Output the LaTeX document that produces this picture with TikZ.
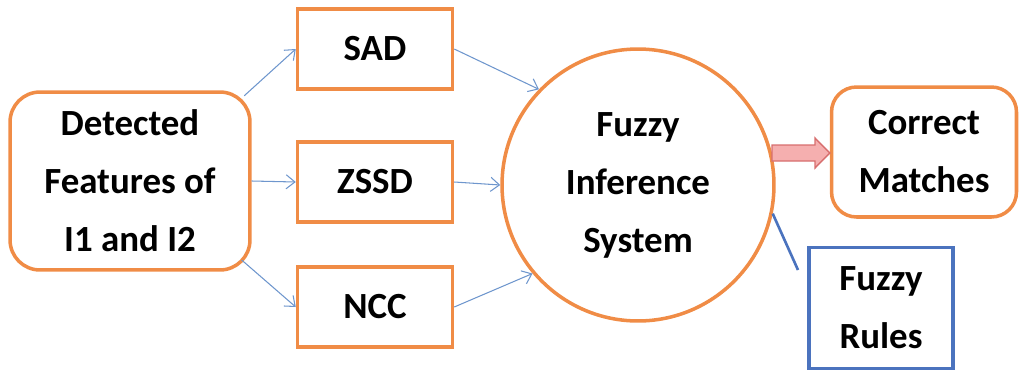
\documentclass[tikz,border=0pt]{standalone}
\usepackage{fontspec}
\setmainfont{Carlito}
\usetikzlibrary{arrows.meta,shapes.arrows}
\definecolor{org}{RGB}{240,140,70}
\definecolor{arrb}{RGB}{110,150,205}
\definecolor{rulb}{RGB}{75,115,190}
\definecolor{pinkf}{RGB}{245,175,175}
\definecolor{pinkd}{RGB}{215,110,110}
\tikzset{
  lbl/.style={font=\fontsize{21}{33}\selectfont\bfseries, align=center, text=black},
  rbox/.style={lbl, draw=org, line width=2pt, rounded corners=0.6cm, fill=white},
  sbox/.style={lbl, draw=org, line width=2pt, minimum width=3.1cm, minimum height=1.6cm, fill=white},
  conn/.style={draw=arrb, line width=0.6pt, -{Straight Barb[length=5pt,width=8pt]}},
}
\begin{document}
\begin{tikzpicture}[x=0.02cm,y=-0.02cm]
\useasboundingbox (0,0) rectangle (1020,369);
\node[rbox, minimum width=4.8cm, minimum height=3.56cm] (det) at (130,181) {Detected\\Features of\\I1 and I2};
\node[sbox] (sad) at (375,49) {SAD};
\node[sbox] (zssd) at (375,182) {ZSSD};
\node[sbox] (ncc) at (375,307) {NCC};
\node[lbl, draw=org, line width=2pt, circle, minimum size=5.44cm, inner sep=0pt] (fis) at (638,185) {Fuzzy\\Inference\\System};
\node[rbox, minimum width=3.7cm, minimum height=2.6cm, rounded corners=0.5cm] (cm) at (924,152) {Correct\\Matches};
\node[lbl, draw=rulb, line width=1.8pt, minimum width=2.88cm, minimum height=2.42cm] (fr) at (881,308) {Fuzzy\\Rules};
\draw[conn] ([xshift=-0.15cm]det.35) -- (sad.west);
\draw[conn] (det.east) -- (zssd.west);
\draw[conn] ([xshift=-0.2cm]det.-33) -- (ncc.west);
\draw[conn] (sad.east) -- (fis.136);
\draw[conn] (zssd.east) -- (fis.west);
\draw[conn] (ncc.east) -- (fis.-140);
\coordinate (rend) at (798,270);
\draw[rulb, line width=1.5pt] (fis.-12) -- (rend);
\draw[draw=pinkd, fill=pinkf, line width=0.8pt, line join=miter]
  (772,145) -- (815,145) -- (815,138) -- (cm.west |- 0,153) -- (815,168) -- (815,161) -- (772,161) -- cycle;
\end{tikzpicture}
\end{document}
